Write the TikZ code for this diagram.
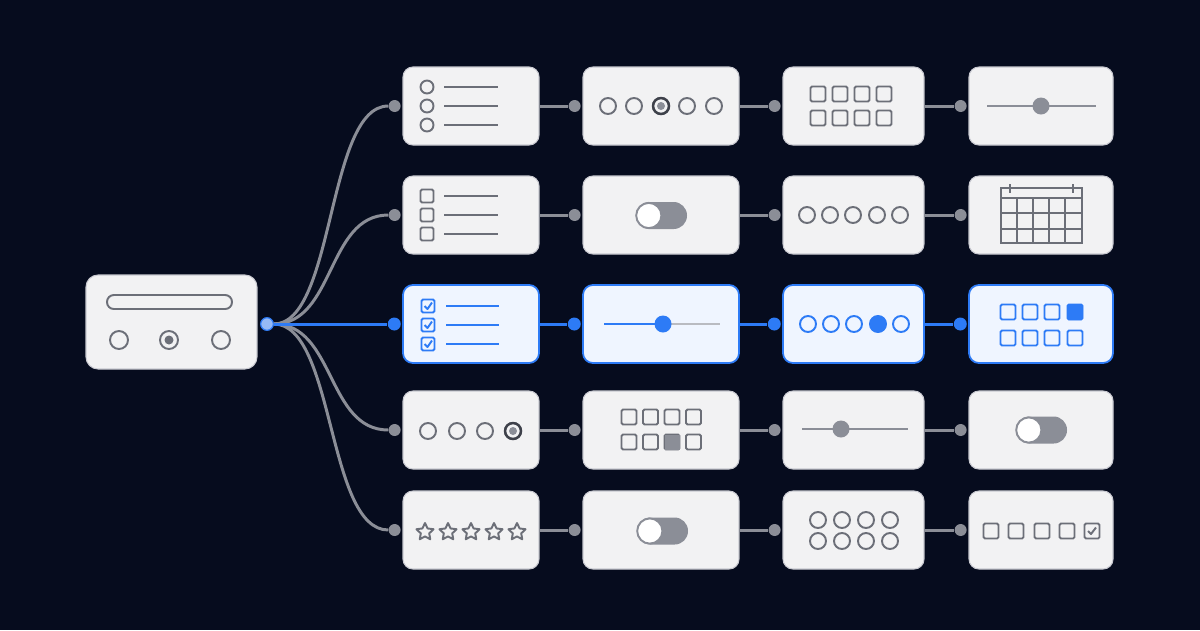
\documentclass[tikz,border=0pt]{standalone}
\usepackage{tikz}
\usetikzlibrary{positioning}

\definecolor{bgnavy}{RGB}{6,12,30}
\definecolor{cardfill}{RGB}{242,242,243}
\definecolor{cardedge}{RGB}{200,201,208}
\definecolor{wire}{RGB}{139,142,151}
\definecolor{ink}{RGB}{108,111,120}
\definecolor{inkdark}{RGB}{62,65,74}
\definecolor{accent}{RGB}{45,123,246}
\definecolor{accentfill}{RGB}{239,245,255}
\definecolor{hubfill}{RGB}{150,186,246}

% toggle switch, given its centre
\newcommand{\switchicon}[1]{%
  \begin{scope}[shift={#1}]
    \fill[wire, rounded corners=7.6pt] (-25.5,-13.5) rectangle (25.5,13.5);
    \draw[icon, draw=wire, fill=white] (-12.7,0) circle[radius=12.6];
  \end{scope}}

\begin{document}
\begin{tikzpicture}[
    x=0.02cm, y=-0.02cm,
    card/.style={draw=cardedge, fill=cardfill, line width=0.6pt, rounded corners=5.6pt,
                 minimum height=1.56cm, inner sep=0pt},
    cardon/.style={card, draw=accent, fill=accentfill, line width=1pt},
    dot/.style={circle, fill=wire, inner sep=0pt, minimum size=0.24cm},
    doton/.style={dot, fill=accent, minimum size=0.26cm},
    hubdot/.style={circle, fill=hubfill, draw=accent, line width=0.6pt, inner sep=0pt, minimum size=0.25cm},
    link/.style={draw=wire, line width=1.7pt},
    linkon/.style={draw=accent, line width=1.7pt},
    icon/.style={draw=ink, line width=1.1pt},
    iconon/.style={draw=accent, line width=1.1pt}
    ]
    \fill[bgnavy] (0,0) rectangle (1200,630);
    \useasboundingbox (0,0) rectangle (1200,630);

    % source form
    \node[card, minimum width=3.42cm, minimum height=1.88cm, rounded corners=6.8pt] (form) at (171.5,322) {};
    \node[hubdot] (hub) at (267,324) {};

    % cards
    \node[card, minimum width=2.72cm] (r1c1) at (471,106) {};
    \node[card, minimum width=3.12cm] (r1c2) at (661,106) {};
    \node[card, minimum width=2.82cm] (r1c3) at (853.5,106) {};
    \node[card, minimum width=2.88cm] (r1c4) at (1041,106) {};

    \node[card, minimum width=2.72cm] (r2c1) at (471,215) {};
    \node[card, minimum width=3.12cm] (r2c2) at (661,215) {};
    \node[card, minimum width=2.82cm] (r2c3) at (853.5,215) {};
    \node[card, minimum width=2.88cm] (r2c4) at (1041,215) {};

    \node[cardon, minimum width=2.72cm] (r3c1) at (471,324) {};
    \node[cardon, minimum width=3.12cm] (r3c2) at (661,324) {};
    \node[cardon, minimum width=2.82cm] (r3c3) at (853.5,324) {};
    \node[cardon, minimum width=2.88cm] (r3c4) at (1041,324) {};

    \node[card, minimum width=2.72cm] (r4c1) at (471,430) {};
    \node[card, minimum width=3.12cm] (r4c2) at (661,430) {};
    \node[card, minimum width=2.82cm] (r4c3) at (853.5,430) {};
    \node[card, minimum width=2.88cm] (r4c4) at (1041,430) {};

    \node[card, minimum width=2.72cm] (r5c1) at (471,530) {};
    \node[card, minimum width=3.12cm] (r5c2) at (661,530) {};
    \node[card, minimum width=2.82cm] (r5c3) at (853.5,530) {};
    \node[card, minimum width=2.88cm] (r5c4) at (1041,530) {};

    % ports
    \foreach \r in {1,2,4,5}
      \foreach \c in {1,2,3,4}
        \node[dot, left=0.03cm of r\r c\c] (r\r p\c) {};
    \foreach \c in {1,2,3,4}
      \node[doton, left=0.02cm of r3c\c] (r3p\c) {};

    % links
    \foreach \r in {1,2,4,5} {
      \draw[link] (hub) .. controls +(68,0) and +(-68,0) .. (r\r p1);
      \draw[link] (r\r c1) -- (r\r p2);
      \draw[link] (r\r c2) -- (r\r p3);
      \draw[link] (r\r c3) -- (r\r p4);
    }
    \draw[linkon] (hub) -- (r3p1);
    \draw[linkon] (r3c1) -- (r3p2);
    \draw[linkon] (r3c2) -- (r3p3);
    \draw[linkon] (r3c3) -- (r3p4);
    \node[hubdot] (hubtop) at (hub) {};

    % form contents
    \draw[icon, rounded corners=3.9pt] (107,295) rectangle (232,309);
    \foreach \x in {119,169,221} \draw[icon] (\x,340) circle[radius=9];
    \fill[ink] (169,340) circle[radius=4.5];

    % row 1
    \foreach \y in {87,106,125} {
      \draw[icon] (427,\y) circle[radius=6.5];
      \draw[icon] (444,\y) -- (498,\y);
    }
    \foreach \x in {608,634,661,687,714} \draw[icon] (\x,106) circle[radius=8];
    \draw[draw=inkdark, line width=1.4pt] (661,106) circle[radius=8];
    \fill[wire] (661,106) circle[radius=4];
    \foreach \x in {818,840,862,884}
      \foreach \y in {94,118}
        \draw[icon, rounded corners=0.8pt] (\x-7.5,\y-7.5) rectangle +(15,15);
    \draw[draw=wire, line width=1.2pt] (987,106) -- (1096,106);
    \fill[wire] (1041,106) circle[radius=8.5];

    % row 2
    \foreach \y in {196,215,234} {
      \draw[icon, rounded corners=0.8pt] (420.5,\y-6.5) rectangle +(13,13);
      \draw[icon] (444,\y) -- (498,\y);
    }
    \switchicon{(661.5,215.5)}
    \foreach \x in {807,830,853,877,900} \draw[icon] (\x,215) circle[radius=8];
    \draw[icon, line width=1pt] (1001,188) rectangle (1082,243);
    \foreach \y in {198,213,229} \draw[icon, line width=1pt] (1001,\y) -- (1082,\y);
    \foreach \x in {1017,1033,1049,1065} \draw[icon, line width=1pt] (\x,198) -- (\x,243);
    \foreach \x in {1010,1073} \draw[icon, line width=1pt] (\x,184) -- (\x,193);

    % row 3 (selected path)
    \foreach \y in {306,325,344} {
      \draw[iconon, rounded corners=0.8pt] (421.5,\y-6.5) rectangle +(13,13);
      \draw[iconon, line join=round] (424.5,\y) -- (427.5,\y+3) -- (432,\y-3.5);
      \draw[iconon] (446,\y) -- (499,\y);
    }
    \draw[draw=wire!60, line width=1.1pt] (663,324) -- (720,324);
    \draw[iconon] (604,324) -- (663,324);
    \fill[accent] (663,324) circle[radius=8.5];
    \foreach \x in {808,831,854,878,901} \draw[iconon] (\x,324) circle[radius=8];
    \fill[accent] (878,324) circle[radius=8.5];
    \foreach \x in {1008,1030,1052,1075}
      \foreach \y in {312,338}
        \draw[iconon, rounded corners=0.8pt] (\x-7.5,\y-7.5) rectangle +(15,15);
    \fill[accent, rounded corners=0.8pt] (1067,304) rectangle +(16,16);

    % row 4
    \foreach \x in {428,457,485,513} \draw[icon] (\x,431) circle[radius=8];
    \draw[draw=inkdark, line width=1.4pt] (513,431) circle[radius=8];
    \fill[wire] (513,431) circle[radius=4];
    \foreach \x in {629,650.5,672,693.5}
      \foreach \y in {417,442}
        \draw[icon, rounded corners=0.8pt] (\x-7.5,\y-7.5) rectangle +(15,15);
    \fill[wire] (664.5,434.5) rectangle +(15,15);
    \draw[draw=wire, line width=1.2pt] (802,429) -- (908,429);
    \fill[wire] (841,429) circle[radius=8.5];
    \switchicon{(1041.5,430)}

    % row 5
    \foreach \x in {425,448,471,494,517}
      \draw[icon, line join=round] (\x,532) +(270:9) -- +(306:4.4) -- +(342:9) -- +(18:4.4)
        -- +(54:9) -- +(90:4.4) -- +(126:9) -- +(162:4.4) -- +(198:9) -- +(234:4.4) -- cycle;
    \switchicon{(662.5,531)}
    \foreach \x in {818,842,866,890}
      \foreach \y in {520,541}
        \draw[icon] (\x,\y) circle[radius=8];
    \foreach \x in {991,1016,1042,1067,1092}
      \draw[icon, rounded corners=0.8pt] (\x-7.5,523.5) rectangle +(15,15);
    \draw[icon, line join=round] (1088,531) -- (1091,534) -- (1096,527.5);
\end{tikzpicture}
\end{document}
